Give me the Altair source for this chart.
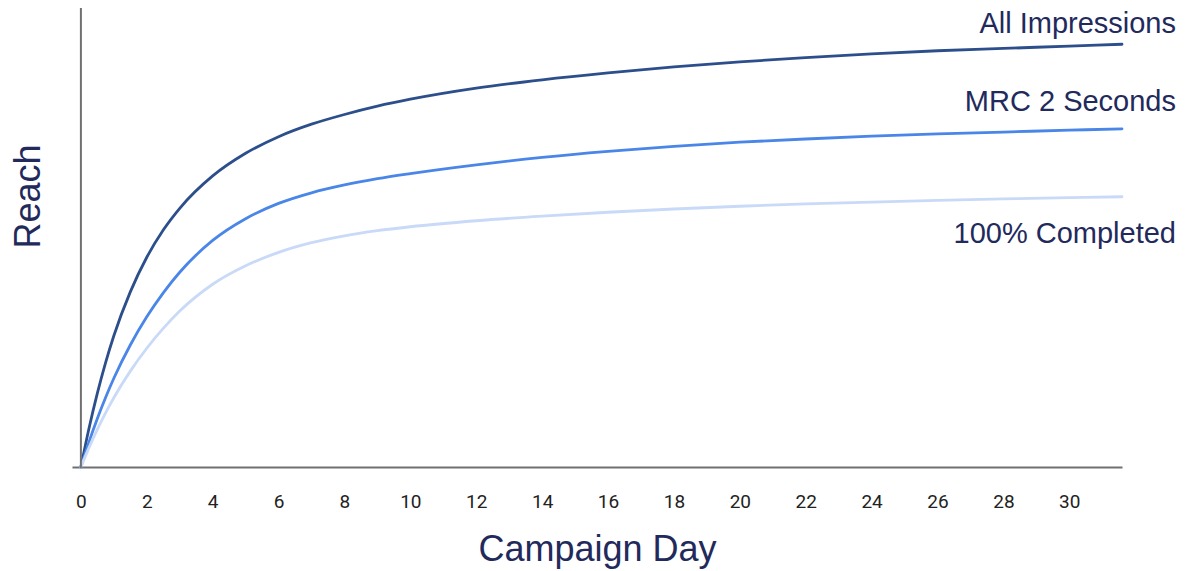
import altair as alt
import pandas as pd

days = [0, 0.25, 0.5, 0.75, 1, 1.5, 2, 2.5, 3, 4, 5, 6, 7, 8, 9, 10, 12, 14, 16, 18, 20, 22, 24, 26, 28, 30, 31.6]
all_impressions = [0, 8.5, 16.0, 22.6, 28.4, 37.9, 45.4, 51.3, 56.0, 63.0, 67.9, 71.5, 74.2, 76.3, 78.1, 79.6,
                   82.0, 83.8, 85.3, 86.6, 87.7, 88.6, 89.4, 90.1, 90.6, 91.1, 91.5]
mrc_2_seconds = [0, 5.5, 10.5, 15.05, 19.2, 26.4, 32.5, 37.7, 42.15, 49.05, 53.75, 57.05, 59.35, 61.05, 62.4, 63.5,
                 65.4, 67.0, 68.3, 69.4, 70.3, 71.0, 71.6, 72.1, 72.5, 72.9, 73.2]
completed_100 = [0, 4.25, 8.15, 11.73, 15.0, 20.75, 25.7, 30.0, 33.75, 39.55, 43.55, 46.45, 48.55, 50.05, 51.15, 52.0,
                 53.3, 54.3, 55.14, 55.84, 56.44, 56.94, 57.34, 57.7, 58.02, 58.3, 58.49]

series_names = ["All Impressions", "MRC 2 Seconds", "100% Completed"]
series_values = [all_impressions, mrc_2_seconds, completed_100]
series_colors = ["#2c4f8c", "#4a86e8", "#c9daf8"]
tick_values = list(range(0, 31, 2))

rows = []
for name, vals in zip(series_names, series_values):
    for d, v in zip(days, vals):
        rows.append({"day": d, "reach": v, "series": name})
df = pd.DataFrame(rows)

X_DOMAIN = [-0.27, 31.6]
Y_DOMAIN = [0, 99.35]
NAVY = "#222a5c"

x_enc = alt.X(
    "day:Q",
    scale=alt.Scale(domain=X_DOMAIN, nice=False, zero=False),
    axis=alt.Axis(
        values=tick_values,
        title="Campaign Day",
        ticks=False,
        tickSize=0,
        grid=False,
        domainColor="#707070",
        domainWidth=2,
        labelFont="Roboto",
        labelFontSize=19,
        labelColor="#222222",
        labelPadding=25,
        titleFont="Liberation Sans",
        titleFontSize=36,
        titleFontWeight="normal",
        titleColor=NAVY,
        titleBaseline="alphabetic",
        titleY=93,
    ),
)
y_enc = alt.Y(
    "reach:Q",
    scale=alt.Scale(domain=Y_DOMAIN, nice=False),
    axis=alt.Axis(
        title="Reach",
        labels=False,
        ticks=False,
        grid=False,
        domain=False,
        titleFont="Liberation Sans",
        titleFontSize=36,
        titleFontWeight="normal",
        titleColor=NAVY,
        titleAngle=270,
        titleAlign="center",
        titleBaseline="alphabetic",
        titleX=-33,
        titleY=188,
    ),
)

lines = alt.Chart(df).mark_line(strokeWidth=2.8, interpolate="monotone", strokeCap="round").encode(
    x=x_enc,
    y=y_enc,
    color=alt.Color("series:N", scale=alt.Scale(domain=series_names, range=series_colors), legend=None),
    order=alt.Order("day:Q"),
)

y_axis_rule = alt.Chart(pd.DataFrame({"day": [0]})).mark_rule(color="#707070", strokeWidth=2).encode(
    x=alt.X("day:Q", scale=alt.Scale(domain=X_DOMAIN, nice=False, zero=False)),
    y=alt.value(0),
    y2=alt.value(460),
)

label_offsets = [-11, -18, 46]
label_layers = []
for name, vals, dy in zip(series_names, series_values, label_offsets):
    ldf = pd.DataFrame({"day": [days[-1]], "reach": [vals[-1]], "series": [name]})
    label_layers.append(
        alt.Chart(ldf).mark_text(
            align="right", baseline="alphabetic", dx=54, dy=dy,
            font="Liberation Sans", fontSize=29, color=NAVY,
        ).encode(x="day:Q", y="reach:Q", text="series:N")
    )

chart = alt.layer(lines, y_axis_rule, *label_layers).properties(
    width=1050,
    height=459,
    background="white",
    autosize=alt.AutoSizeParams(type="none"),
    padding={"left": 64, "top": 0, "right": 56, "bottom": 110},
).configure_view(stroke=None)

chart.save("out.html", embed_options={"renderer": "svg", "actions": False})
